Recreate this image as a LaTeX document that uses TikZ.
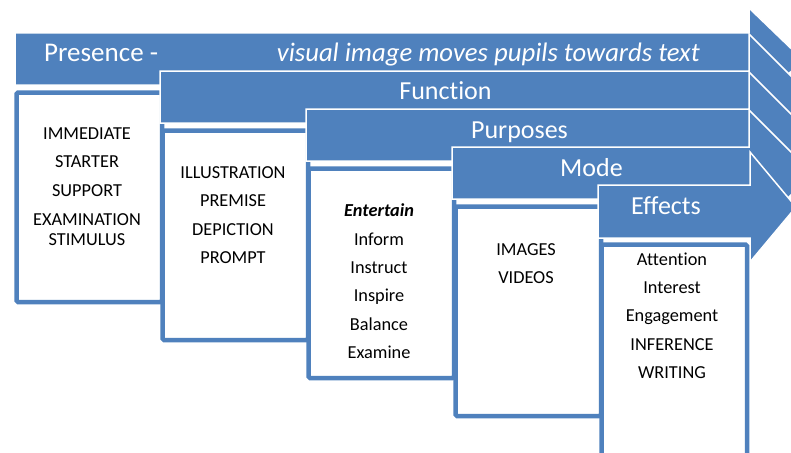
\documentclass[tikz,border=0pt]{standalone}
\usepackage{fontspec}
\setmainfont{Carlito}[RawFeature={-liga;-clig}]
\definecolor{accent}{RGB}{79,129,189}
\tikzset{
  band/.style={fill=accent, draw=white, line width=1.5pt, line join=miter},
  card/.style={draw=accent, fill=white, line width=4.5pt, rounded corners=1.5pt,
    minimum width=145.5pt, minimum height=209.5pt, anchor=north west, inner sep=0pt},
  head/.style={text=white, font=\fontsize{26}{30}\selectfont, anchor=base, inner sep=0pt},
  item/.style={text=black, font=\fontsize{18.3}{20}\selectfont, anchor=base, inner sep=0pt}
}
\begin{document}
\begin{tikzpicture}[x=1pt, y=-1pt]
\useasboundingbox (0,0) rectangle (791,452);

% stage 1: Presence
\path[band] (15,33) -- (749,33) -- (749,8) -- (803,60) -- (749,112) -- (749,85) -- (15,85) -- cycle;
\node[head, anchor=base west, font=\fontsize{27}{30}\selectfont] (presence) at (44,61.7) {Presence -};
\node[head, anchor=base east, font=\fontsize{26.7}{30}\selectfont\itshape] (presenceNote) at (700,61.7) {visual image moves pupils towards text};
\node[card] (box1) at (14.25,90.25) {};
\node[item] (a1) at (87,139) {IMMEDIATE};
\node[item] (a2) at (87,167.7) {STARTER};
\node[item] (a3) at (87,196.7) {SUPPORT};
\node[item] (a4) at (87,225) {EXAMINATION};
\node[item] (a5) at (87,245) {STIMULUS};

% stage 2: Function
\path[band] (160,71) -- (749,71) -- (749,34) -- (811.5,96.5) -- (749,159) -- (749,123) -- (160,123) -- cycle;
\node[head] (function) at (445.5,99.3) {Function};
\node[card] (box2) at (160.25,128.25) {};
\node[item] (b1) at (233,178) {ILLUSTRATION};
\node[item] (b2) at (233,206.7) {PREMISE};
\node[item] (b3) at (233,235) {DEPICTION};
\node[item] (b4) at (233,263.3) {PROMPT};

% stage 3: Purposes
\path[band] (306,109) -- (749,109) -- (749,72) -- (812,135) -- (749,198) -- (749,161) -- (306,161) -- cycle;
\node[head] (purposes) at (519.5,138) {Purposes};
\node[card] (box3) at (306.25,166.25) {};
\node[item] (c1) at (379,216.7) {\bfseries\itshape Entertain};
\node[item] (c2) at (379,245) {Inform};
\node[item] (c3) at (379,273) {Instruct};
\node[item] (c4) at (379,301.7) {Inspire};
\node[item] (c5) at (379,330) {Balance};
\node[item] (c6) at (379,358) {Examine};

% stage 4: Mode
\path[band] (452,147) -- (749,147) -- (749,110) -- (812.5,173.5) -- (749,237) -- (749,199) -- (452,199) -- cycle;
\node[head] (mode) at (591.5,176) {Mode};
\node[card] (box4) at (453.25,204.25) {};
\node[item] (d1) at (526,255) {IMAGES};
\node[item] (d2) at (526,283) {VIDEOS};

% stage 5: Effects (box runs past the lower edge)
\path[band] (598,185) -- (750,185) -- (750,152) -- (796,207) -- (750,262) -- (750,238) -- (598,238) -- cycle;
\node[head] (effects) at (666,214.5) {Effects};
\node[card, minimum height=220pt] (box5) at (599.25,242.25) {};
\node[item] (e1) at (672,265) {Attention};
\node[item] (e2) at (672,293.3) {Interest};
\node[item] (e3) at (672,321.7) {Engagement};
\node[item] (e4) at (672,350) {INFERENCE};
\node[item] (e5) at (672,378) {WRITING};
\end{tikzpicture}
\end{document}
